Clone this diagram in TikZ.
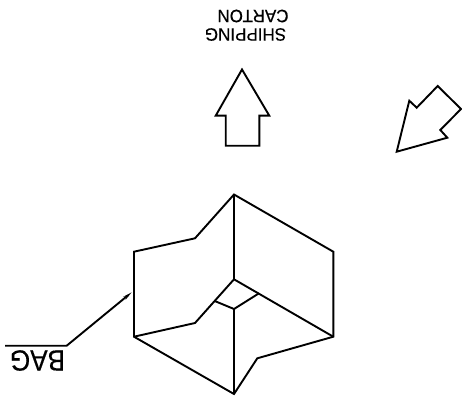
\documentclass[tikz,border=0pt]{standalone}
\usepackage{fontspec}
\setmainfont{Liberation Sans}
\usetikzlibrary{positioning,arrows.meta}

\begin{document}
\begin{tikzpicture}[x=1pt,y=-1pt,
    outline/.style={line width=1.9pt, line join=miter, black},
    cartonlabel/.style={font=\addfontfeature{FakeBold=0.4}\fontsize{17}{18}\selectfont, rotate=180, inner sep=0pt, yscale=1.05},
    baglabel/.style={font=\addfontfeature{FakeBold=0.3}\fontsize{26}{28}\selectfont, rotate=180, inner sep=0pt, yscale=1.12}]
      \useasboundingbox (0,0) rectangle (462,398);

      % Labels
      \node[cartonlabel] (carton) at (253,16) {CARTON};
      \node[cartonlabel] (shipping) at (245.5,34.5) {SHIPPING};
      \node[baglabel] (bag) at (37.5,360.5) {BAG};

      % Draw the up arrow
      \draw[outline] (242,69.5) -- (215.7,115.7) -- (225.7,115.7) -- (225.7,145.7)
        -- (259.3,145.7) -- (259.3,115.7) -- (269.3,115.7) -- cycle;

      % Draw the slanted arrow
      \draw[outline] (396.7,151.7) -- (409.3,100.7) -- (416.7,107.7) -- (437.7,86)
        -- (461,109) -- (440.3,130) -- (447.3,137.7) -- cycle;

      % Draw the outer edge of the carton
      \draw[outline] (234,194.5) -- (195,238.3) -- (134,251.7) -- (134,336.7)
        -- (234,394) -- (257.3,358.3) -- (333.3,336.7) -- (333.3,251.7) -- cycle;

      % Draw the inner folds
      \draw[outline] (234,194.5) -- (234,279.3) -- (333.3,336.7);
      \draw[outline] (234,279.3) -- (195,323) -- (134,336.7);
      \draw[outline] (214.7,301) -- (234,309) -- (259,293.3);
      \draw[outline] (234,309) -- (234,394);

      % Leader line to the bag
      \coordinate (bagend) at (131.7,292.3);
      \coordinate (bagknee) at (66.7,345.7);
      \coordinate (bagstart) at (5,345.7);
      \draw[outline, {Stealth[length=9pt,width=3.5pt]}-] (bagend) -- (bagknee) -- (bagstart);

\end{tikzpicture}
\end{document}
